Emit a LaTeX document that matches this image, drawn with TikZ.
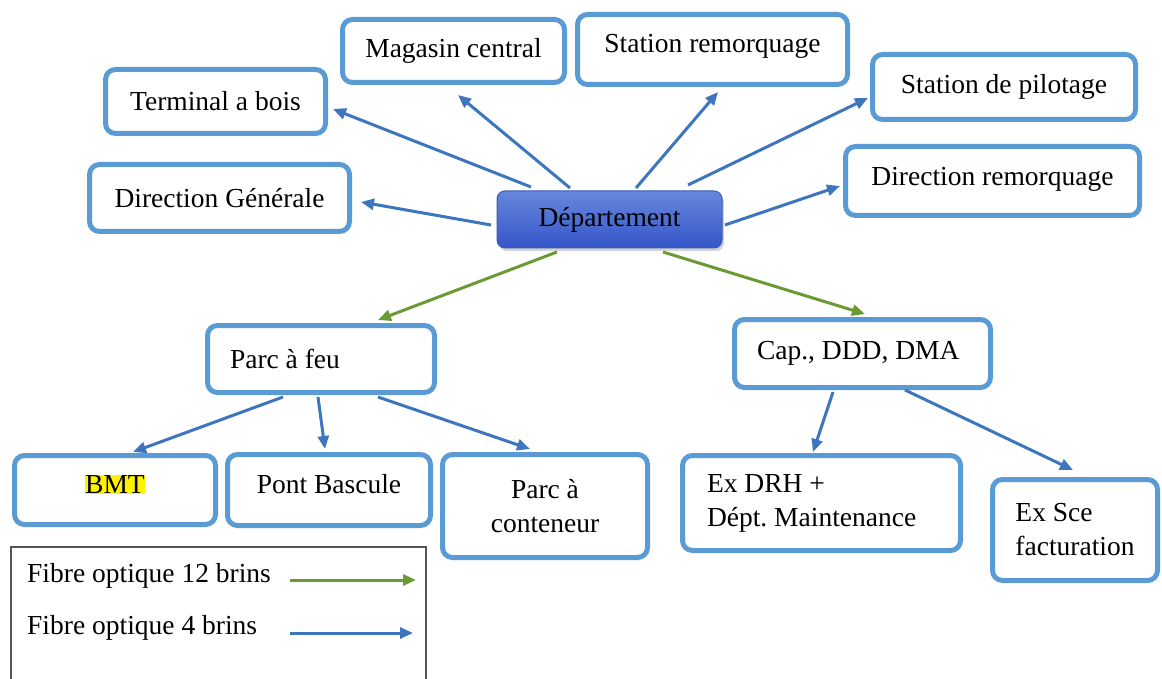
\documentclass[tikz,border=0pt]{standalone}
\usepackage{fontspec}
\setmainfont{Liberation Serif}
\usetikzlibrary{calc,arrows.meta,shadows}
\definecolor{boxline}{HTML}{5B9BD5}
\definecolor{linkblue}{HTML}{3D76BE}
\definecolor{linkgreen}{HTML}{6B9A35}
\definecolor{depttop}{HTML}{6687DC}
\definecolor{deptbot}{HTML}{3556C8}
\definecolor{deptline}{HTML}{3A5AB5}
\definecolor{legendline}{HTML}{555555}
\frenchspacing
\begin{document}
\begin{tikzpicture}[x=1pt,y=-1pt,
  font=\fontsize{27.5}{34}\selectfont,
  unit/.style={draw=boxline, line width=5pt, rounded corners=10pt, fill=white,
    inner sep=0pt, text=black},
  dept/.style={draw=deptline, line width=1pt, rounded corners=8pt,
    top color=depttop, bottom color=deptbot, inner sep=0pt,
    drop shadow={shadow xshift=2pt, shadow yshift=-3pt, opacity=0.35}},
  blink/.style={draw=linkblue, line width=3pt, -{Triangle[length=13pt,width=11pt]}},
  glink/.style={draw=linkgreen, line width=3pt, -{Triangle[length=13pt,width=11pt]}},
  legendbox/.style={draw=legendline, line width=1.8pt},
  legendtext/.style={anchor=base west, inner sep=0pt}]
\useasboundingbox (0,0) rectangle (1162,679);

% central node
\node[dept, minimum width=225pt, minimum height=57pt] (dept) at (609.5,219.5) {Département};

% upper ring of units
\node[unit, minimum width=222pt, minimum height=63pt] (mag) at (453.5,51) {Magasin central};
\node[unit, minimum width=270pt, minimum height=70pt, text depth=12pt] (stat) at (712.5,49.5) {Station remorquage};
\node[unit, minimum width=220pt, minimum height=64pt] (term) at (215.5,101.5) {Terminal a bois};
\node[unit, minimum width=263pt, minimum height=65pt] (pilot) at (1004,87) {Station de pilotage};
\node[unit, minimum width=260pt, minimum height=67pt] (dirg) at (219.5,198) {Direction Générale};
\node[unit, minimum width=294pt, minimum height=69pt, text depth=10pt] (dirr) at (992.5,181) {Direction remorquage};

% second level
\node[unit, minimum width=227pt, minimum height=67pt, text width=182pt, align=flush left] (parc) at (321,359) {Parc à feu};
\node[unit, minimum width=256pt, minimum height=68pt, text width=211pt, align=flush left] (cap) at (862.5,353.5) {Cap., DDD, DMA};

% third level
\node[unit, minimum width=201pt, minimum height=69pt, text depth=12pt] (bmt) at (115,490) {\setlength{\fboxsep}{0.5pt}\colorbox{yellow}{BMT}};
\node[unit, minimum width=203pt, minimum height=71pt, text depth=12pt] (pont) at (329,490) {Pont Bascule};
\node[unit, minimum width=205pt, minimum height=103pt, align=center] (cont) at (545,506) {Parc à\\conteneur};
\node[unit, minimum width=278pt, minimum height=95pt, text width=229pt, align=flush left] (drh) at (821.5,503) {Ex DRH +\\Dépt. Maintenance};
\node[unit, minimum width=165pt, minimum height=101pt, align=flush left] (sce) at (1075,530) {Ex Sce\\facturation};

% links from the central node
\draw[blink] ($(dept)+(-78.5,-32.5)$) -- ($(term)+(117.5,7.5)$);
\draw[blink] ($(dept)+(-39.5,-31.5)$) -- ($(mag)+(4.5,44)$);
\draw[blink] ($(dept)+(26.5,-31.5)$) -- ($(stat)+(5.5,42.5)$);
\draw[blink] ($(dept)+(78.5,-34.5)$) -- ($(pilot)+(-136,11)$);
\draw[blink] ($(dept)+(-118.5,5.5)$) -- ($(dirg)+(141.5,4)$);
\draw[blink] ($(dept)+(115.5,5.5)$) -- ($(dirr)+(-152.5,5)$);
\draw[glink] ($(dept)+(-52.5,32.5)$) -- ($(parc)+(57,-39)$);
\draw[glink] ($(dept)+(53.5,32.5)$) -- ($(cap)+(2.5,-39.5)$);

% links to the third level
\draw[blink] ($(parc)+(-38,38)$) -- ($(bmt)+(18,-38)$);
\draw[blink] ($(parc)+(-3,38)$) -- ($(pont)+(-4,-41)$);
\draw[blink] ($(parc)+(57,38)$) -- ($(cont)+(-15,-57)$);
\draw[blink] ($(cap)+(-29.5,38.5)$) -- ($(drh)+(-8.5,-51)$);
\draw[blink] ($(cap)+(42.5,36.5)$) -- ($(sce)+(-2,-60)$);

% legend
\node[legendbox, minimum width=415pt, minimum height=145pt, anchor=north west, inner sep=0pt] (legend) at (10,546) {};
\node[legendtext] (l12) at (27,582) {Fibre optique 12 brins};
\node[legendtext] (l4) at (27,634) {Fibre optique 4 brins};
\coordinate (g1) at (290,580);
\coordinate (g2) at (416,580);
\coordinate (b1) at (290,633);
\coordinate (b2) at (413,633);
\draw[glink] (g1) -- (g2);
\draw[blink] (b1) -- (b2);
\end{tikzpicture}
\end{document}
